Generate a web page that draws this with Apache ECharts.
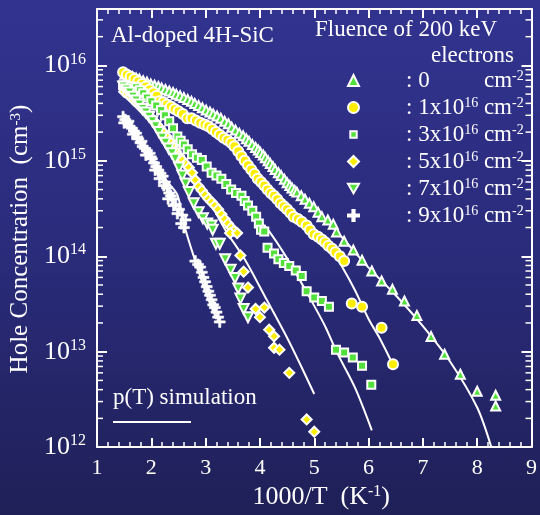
<!DOCTYPE html>
<html><head><meta charset="utf-8">
<script src="https://cdn.jsdelivr.net/npm/echarts@6/dist/echarts.min.js"></script>
<style>
html,body{margin:0;padding:0;}
#c{width:540px;height:515px;background:linear-gradient(to bottom,#32338f 0%,#2a2b7a 50%,#1f2057 100%);}
</style>
</head><body><div id="c"></div>
<script>
// ---------------- data (x = 1000/T in K^-1, y = hole concentration in cm^-3) ----------------
const seriesNames = ['F0', 'F1', 'F3', 'F5', 'F7', 'F9'];
const fluenceMantissa = ['0', '1', '3', '5', '7', '9'];
const xTickLabels = ['1', '2', '3', '4', '5', '6', '7', '8', '9'];
const yDecades = [12, 13, 14, 15, 16];

const fluence0 = [[1.51,8.1e15],[1.58,7.9e15],[1.65,7.6e15],[1.72,7.4e15],[1.78,7.2e15],[1.85,6.9e15],[1.92,6.7e15],[1.99,6.4e15],[2.06,6.2e15],[2.13,6.0e15],[2.19,5.8e15],[2.26,5.6e15],[2.33,5.4e15],[2.40,5.2e15],[2.46,5.0e15],[2.53,4.8e15],[2.60,4.6e15],[2.67,4.4e15],[2.74,4.2e15],[2.80,4.0e15],[2.87,3.8e15],[2.94,3.6e15],[3.01,3.4e15],[3.08,3.25e15],[3.14,3.1e15],[3.21,2.95e15],[3.28,2.8e15],[3.35,2.6e15],[3.42,2.45e15],[3.48,2.25e15],[3.55,2.1e15],[3.62,1.95e15],[3.69,1.83e15],[3.75,1.7e15],[3.80,1.6e15],[3.86,1.48e15],[3.92,1.38e15],[3.97,1.3e15],[4.01,1.22e15],[4.06,1.15e15],[4.10,1.08e15],[4.15,1.0e15],[4.19,9.4e14],[4.24,8.7e14],[4.28,8.1e14],[4.34,7.5e14],[4.39,7.0e14],[4.45,6.4e14],[4.50,5.9e14],[4.55,5.5e14],[4.59,5.2e14],[4.64,4.9e14],[4.68,4.7e14],[4.76,4.3e14],[4.83,3.95e14],[4.91,3.6e14],[4.99,3.3e14],[5.07,2.9e14],[5.14,2.6e14],[5.25,2.4e14],[5.35,2.17e14],[5.41,1.8e14],[5.55,1.44e14],[5.72,1.16e14],[5.88,9.1e13],[6.06,7.0e13],[6.24,5.5e13],[6.44,4.5e13],[6.66,3.4e13],[6.89,2.4e13],[7.15,1.44e13],[7.40,9.4e12],[7.69,5.8e12],[8.00,3.85e12],[8.34,3.5e12],[8.34,2.7e12]];

const fluence1e16 = [[1.48,8.5e15],[1.55,8.0e15],[1.62,7.6e15],[1.69,7.2e15],[1.76,6.8e15],[1.83,6.4e15],[1.90,6.0e15],[1.97,5.6e15],[2.04,5.2e15],[2.10,4.8e15],[2.15,4.2e15],[2.22,4.1e15],[2.29,3.9e15],[2.36,3.7e15],[2.43,3.5e15],[2.50,3.3e15],[2.58,3.1e15],[2.66,2.8e15],[2.74,2.8e15],[2.82,2.65e15],[2.90,2.5e15],[2.98,2.4e15],[3.05,2.3e15],[3.12,2.15e15],[3.19,2.0e15],[3.26,1.88e15],[3.33,1.75e15],[3.40,1.65e15],[3.47,1.55e15],[3.53,1.42e15],[3.60,1.26e15],[3.66,1.12e15],[3.72,1.0e15],[3.78,9.0e14],[3.84,8.1e14],[3.90,7.3e14],[3.96,6.5e14],[4.02,6.0e14],[4.08,5.5e14],[4.14,5.0e14],[4.20,4.6e14],[4.26,4.3e14],[4.32,3.95e14],[4.38,3.6e14],[4.44,3.35e14],[4.50,3.1e14],[4.56,2.85e14],[4.62,2.6e14],[4.70,2.45e14],[4.77,2.3e14],[4.86,2.1e14],[4.92,1.9e14],[4.99,1.7e14],[5.07,1.6e14],[5.14,1.5e14],[5.20,1.4e14],[5.26,1.29e14],[5.33,1.2e14],[5.39,1.1e14],[5.47,1.0e14],[5.55,8.9e13],[5.69,3.2e13],[5.88,2.95e13],[6.24,1.78e13],[6.45,7.4e12]];

const fluence3e16 = [[1.48,6.2e15],[1.55,6.1e15],[1.62,6.0e15],[1.72,5.9e15],[1.79,5.5e15],[1.85,5.1e15],[1.92,4.6e15],[2.00,4.2e15],[2.09,3.8e15],[2.18,3.4e15],[2.25,3.0e15],[2.33,2.6e15],[2.40,2.2e15],[2.48,1.8e15],[2.54,1.62e15],[2.60,1.48e15],[2.67,1.32e15],[2.75,1.17e15],[2.84,1.08e15],[2.93,1.02e15],[3.02,8.7e14],[3.11,7.5e14],[3.20,7.0e14],[3.29,6.5e14],[3.38,5.7e14],[3.47,5.0e14],[3.56,4.6e14],[3.66,4.3e14],[3.72,3.8e14],[3.78,3.4e14],[3.86,3.0e14],[3.93,2.6e14],[3.98,2.2e14],[4.02,1.9e14],[4.08,1.82e14],[4.14,1.23e14],[4.26,1.07e14],[4.34,9.3e13],[4.44,8.5e13],[4.54,7.9e13],[4.66,7.1e13],[4.77,6.2e13],[4.86,4.3e13],[5.00,3.7e13],[5.14,3.4e13],[5.27,2.95e13],[5.40,1.05e13],[5.55,9.8e12],[5.71,8.7e12],[5.88,7.1e12],[6.05,4.5e12]];

const fluence5e16 = [[1.50,5.3e15],[1.56,5.0e15],[1.62,4.7e15],[1.68,4.3e15],[1.74,4.0e15],[1.80,3.7e15],[1.86,3.4e15],[1.92,3.15e15],[1.98,2.9e15],[2.04,2.65e15],[2.10,2.4e15],[2.16,2.2e15],[2.22,2.0e15],[2.28,1.8e15],[2.34,1.6e15],[2.40,1.42e15],[2.45,1.26e15],[2.51,1.13e15],[2.57,1.02e15],[2.63,9.3e14],[2.69,8.5e14],[2.75,7.5e14],[2.81,6.3e14],[2.87,5.4e14],[2.93,4.9e14],[2.99,4.4e14],[3.05,4.0e14],[3.11,3.7e14],[3.17,3.4e14],[3.23,3.1e14],[3.29,2.75e14],[3.35,2.45e14],[3.41,2.2e14],[3.47,2.0e14],[3.52,1.85e14],[3.45,1.75e14],[3.58,1.75e14],[3.64,1.02e14],[3.70,6.9e13],[3.78,4.7e13],[3.92,2.8e13],[4.08,2.9e13],[4.00,2.3e13],[4.17,1.7e13],[4.26,1.45e13],[4.26,1.1e13],[4.36,1.05e13],[4.54,6.0e12],[4.86,1.95e12],[5.00,1.45e12]];

const fluence7e16 = [[1.48,6.0e15],[1.54,5.6e15],[1.60,5.2e15],[1.66,4.7e15],[1.72,4.3e15],[1.78,3.9e15],[1.84,3.5e15],[1.90,3.2e15],[1.96,2.9e15],[2.02,2.6e15],[2.08,2.3e15],[2.14,2.0e15],[2.20,1.75e15],[2.26,1.55e15],[2.32,1.35e15],[2.38,1.2e15],[2.44,1.05e15],[2.51,8.5e14],[2.57,7.0e14],[2.63,5.8e14],[2.69,4.7e14],[2.78,3.6e14],[2.87,2.9e14],[2.95,2.5e14],[3.03,2.2e14],[3.11,2.1e14],[3.13,1.9e14],[3.19,1.35e14],[3.26,1.35e14],[3.36,9.3e13],[3.46,7.2e13],[3.54,5.9e13],[3.60,4.6e13],[3.64,3.6e13],[3.70,2.8e13],[3.78,2.3e13]];

const fluence9e16 = [[1.48,2.9e15],[1.50,2.5e15],[1.52,2.7e15],[1.56,2.5e15],[1.58,2.6e15],[1.60,2.3e15],[1.64,2.2e15],[1.66,1.9e15],[1.68,2.05e15],[1.72,1.95e15],[1.74,1.75e15],[1.76,1.7e15],[1.80,1.55e15],[1.82,1.6e15],[1.84,1.41e15],[1.88,1.35e15],[1.90,1.15e15],[1.92,1.28e15],[1.97,1.2e15],[1.99,1.1e15],[2.01,1.05e15],[2.05,9.5e14],[2.07,8.0e14],[2.09,8.7e14],[2.13,8.0e14],[2.15,6.5e14],[2.17,7.4e14],[2.21,6.9e14],[2.23,5.5e14],[2.25,6.0e14],[2.29,5.2e14],[2.31,4.0e14],[2.33,4.6e14],[2.36,4.3e14],[2.39,4.0e14],[2.41,3.4e14],[2.45,3.5e14],[2.48,2.8e14],[2.51,3.1e14],[2.55,2.2e14],[2.57,2.7e14],[2.60,2.0e14],[2.63,2.4e14],[2.81,8.9e13],[2.86,8.2e13],[2.90,7.7e13],[2.93,6.8e13],[2.96,6.0e13],[2.99,5.4e13],[3.02,4.8e13],[3.05,4.3e13],[3.08,3.9e13],[3.11,3.5e13],[3.14,3.1e13],[3.17,2.9e13],[3.20,2.6e13],[3.23,2.3e13],[3.26,2.05e13]];

// p(T) simulation curves
const sim0 = [[1.5,8.3e15],[2.0,6.4e15],[2.5,4.9e15],[3.0,3.4e15],[3.5,2.2e15],[4.0,1.25e15],[4.5,5.9e14],[5.0,3.2e14],[5.5,1.6e14],[6.0,7.6e13],[6.5,3.9e13],[7.0,1.85e13],[7.5,7.9e12],[8.0,2.6e12],[8.26,1.0e12]];
const sim1e16 = [[1.5,8.3e15],[2.0,5.4e15],[2.5,3.35e15],[3.0,2.35e15],[3.5,1.45e15],[4.0,6.5e14],[4.5,3.1e14],[5.0,1.72e14],[5.25,1.35e14],[5.5,8.0e13],[5.75,4.4e13],[6.0,2.2e13],[6.2,1.4e13],[6.42,7.9e12]];
const sim3e16 = [[1.5,6.2e15],[2.0,4.2e15],[2.5,1.75e15],[3.0,9.0e14],[3.5,4.9e14],[4.0,2.3e14],[4.14,1.92e14],[4.5,9.5e13],[4.86,4.2e13],[5.2,1.85e13],[5.41,1.0e13],[5.75,4.2e12],[6.06,1.5e12]];
const sim5e16 = [[1.5,5.3e15],[2.0,2.8e15],[2.5,1.15e15],[3.0,4.4e14],[3.36,1.9e14],[3.72,9.3e13],[4.08,3.9e13],[4.5,1.4e13],[4.75,7.2e12],[5.0,3.6e12]];
const sim9e16 = [[1.5,2.9e15],[1.8,1.65e15],[2.1,9.0e14],[2.3,6.0e14],[2.48,4.4e14],[2.63,1.9e14],[2.81,8.9e13],[3.0,4.2e13],[3.2,2.2e13]];

// ---------------- styling ----------------
const FONT = '"Liberation Serif","Times New Roman",serif';
const WHITE = '#ffffff';
const GREEN = '#52e03a';
const YELLOW = '#ffee00';
const PLUS = 'path://M4,0h2v4h4v2h-4v4h-2v-4h-4v-2h4z';
const DOWN = 'path://M0,0L10,0L5,8.7Z';
const SQUARE_LEGEND = 'path://M0,0M12,12M2.5,2.5h7v7h-7z';

const minorTickValues = [];
for (let e = yDecades[0]; e <= yDecades[yDecades.length - 1]; e++) {
  for (let m = 2; m <= 9; m++) {
    const v = m * Math.pow(10, e);
    if (v < 3.9e16) minorTickValues.push([1, v]);
  }
}

const legendText = {};
seriesNames.forEach((n, i) => {
  legendText[n] = i === 0 ? '{z|: 0}{c|cm}{s|-2}'
    : '{a|: ' + fluenceMantissa[i] + 'x10}{s|16}{c| cm}{s|-2}';
});

function scatter(name, data, symbol, size, color, bw) {
  return {
    type: 'scatter', name: name, data: data, symbol: symbol, symbolSize: size,
    itemStyle: { color: color, borderColor: WHITE, borderWidth: bw, opacity: 1 },
    silent: true, z: 4, animation: false
  };
}
function sim(data) {
  return {
    type: 'line', data: data, showSymbol: false, symbol: 'none', smooth: 0.3,
    lineStyle: { color: WHITE, width: 2 }, silent: true, z: 3, animation: false
  };
}

const axisCommonX = {
  type: 'value', min: 1, max: 9, interval: 1,
  axisLine: { show: true, onZero: false, lineStyle: { color: WHITE, width: 2 } },
  axisTick: { show: true, inside: true, length: 9, lineStyle: { color: WHITE, width: 2 } },
  minorTick: { show: true, splitNumber: 5, length: 5, lineStyle: { color: WHITE, width: 1.5 } },
  splitLine: { show: false }, minorSplitLine: { show: false }
};
const axisCommonY = {
  type: 'log', logBase: 10, min: 1e12, max: 3.9e16,
  axisLine: { show: true, onZero: false, lineStyle: { color: WHITE, width: 2 } },
  axisTick: { show: true, inside: true, length: 10, lineStyle: { color: WHITE, width: 2 } },
  minorTick: { show: false },
  splitLine: { show: false }
};

const chart = echarts.init(document.getElementById('c'), null, { renderer: 'canvas' });
chart.setOption({
  animation: false,
  backgroundColor: 'transparent',
  grid: { left: 97, right: 3, top: 9, bottom: 66, containLabel: false },
  xAxis: [
    Object.assign({}, axisCommonX, {
      position: 'bottom',
      axisLabel: { color: WHITE, fontFamily: FONT, fontSize: 22, margin: 10,
        formatter: v => xTickLabels[Math.round(v) - 1] || '' },
      name: '1000/T  (K{s|-1})', nameLocation: 'middle', nameGap: 36,
      nameTextStyle: { color: WHITE, fontFamily: FONT, fontSize: 26, padding: [0, 0, 0, 14],
        rich: { s: { fontFamily: FONT, fontSize: 16, color: WHITE, lineHeight: 14, verticalAlign: 'top' } } }
    }),
    Object.assign({}, axisCommonX, { position: 'top', axisLabel: { show: false } })
  ],
  yAxis: [
    Object.assign({}, axisCommonY, {
      position: 'left',
      axisLabel: {
        margin: 11, showMaxLabel: false,
        formatter: function (v) {
          const e = Math.log10(v);
          if (Math.abs(e - Math.round(e)) > 1e-6) return '';
          return '{b|10}{s|' + Math.round(e) + '}';
        },
        rich: {
          b: { fontFamily: FONT, fontSize: 26, color: WHITE, lineHeight: 28 },
          s: { fontFamily: FONT, fontSize: 16, color: WHITE, lineHeight: 14, verticalAlign: 'top' }
        }
      },
      name: 'Hole Concentration  (cm{s|-3})', nameLocation: 'middle', nameGap: 61,
      nameTextStyle: { color: WHITE, fontFamily: FONT, fontSize: 25, padding: [0, 22, 0, 0],
        rich: { s: { fontFamily: FONT, fontSize: 15, color: WHITE, lineHeight: 14, verticalAlign: 'top' } } }
    }),
    Object.assign({}, axisCommonY, { position: 'right', axisLabel: { show: false } })
  ],
  legend: {
    orient: 'vertical', left: 347, top: 69, padding: 0, itemGap: 4,
    itemWidth: 11, itemHeight: 11, selectedMode: false,
    data: [
      { name: 'F0' }, { name: 'F1' }, { name: 'F3', icon: SQUARE_LEGEND },
      { name: 'F5' }, { name: 'F7' }, { name: 'F9' }
    ],
    formatter: n => legendText[n],
    textStyle: {
      color: WHITE, fontFamily: FONT, fontSize: 23,
      rich: {
        a: { fontFamily: FONT, fontSize: 23, color: WHITE, lineHeight: 22, padding: [0, 0, 0, 42] },
        z: { fontFamily: FONT, fontSize: 23, color: WHITE, lineHeight: 22, padding: [0, 0, 0, 42], width: 78 },
        c: { fontFamily: FONT, fontSize: 23, color: WHITE, lineHeight: 22 },
        s: { fontFamily: FONT, fontSize: 14, color: WHITE, lineHeight: 12, verticalAlign: 'top' }
      }
    }
  },
  graphic: [
    { type: 'text', x: 111, y: 36, silent: true,
      style: { text: 'Al-doped 4H-SiC', fill: WHITE, font: '23px ' + FONT, verticalAlign: 'middle' } },
    { type: 'text', x: 315, y: 30, silent: true,
      style: { text: 'Fluence of 200 keV', fill: WHITE, font: '23px ' + FONT, verticalAlign: 'middle' } },
    { type: 'text', x: 514, y: 56, silent: true,
      style: { text: 'electrons', fill: WHITE, font: '23px ' + FONT, align: 'right', verticalAlign: 'middle' } },
    { type: 'text', x: 113, y: 398, silent: true,
      style: { text: 'p(T) simulation', fill: WHITE, font: '23px ' + FONT, verticalAlign: 'middle' } },
    { type: 'line', silent: true, shape: { x1: 113, y1: 422, x2: 191, y2: 422 },
      style: { stroke: WHITE, lineWidth: 2 } }
  ],
  series: [
    {
      type: 'custom', coordinateSystem: 'cartesian2d', silent: true, z: 5, data: minorTickValues,
      renderItem: function (params, api) {
        const y = api.coord([1, api.value(1)])[1];
        const cs = params.coordSys;
        return { type: 'group', children: [
          { type: 'line', shape: { x1: cs.x, y1: y, x2: cs.x + 6, y2: y }, style: { stroke: WHITE, lineWidth: 1.5 } },
          { type: 'line', shape: { x1: cs.x + cs.width, y1: y, x2: cs.x + cs.width - 6, y2: y }, style: { stroke: WHITE, lineWidth: 1.5 } }
        ] };
      }
    },
    sim(sim0), sim(sim1e16), sim(sim3e16), sim(sim5e16), sim(sim9e16),
    scatter('F0', fluence0, 'triangle', 9, GREEN, 2),
    scatter('F1', fluence1e16, 'circle', 10, YELLOW, 2),
    scatter('F3', fluence3e16, 'rect', 8, GREEN, 2),
    scatter('F5', fluence5e16, 'diamond', 10, YELLOW, 2),
    scatter('F7', fluence7e16, DOWN, 10, GREEN, 2),
    scatter('F9', fluence9e16, PLUS, 11, WHITE, 0.6)
  ]
});
</script></body></html>
